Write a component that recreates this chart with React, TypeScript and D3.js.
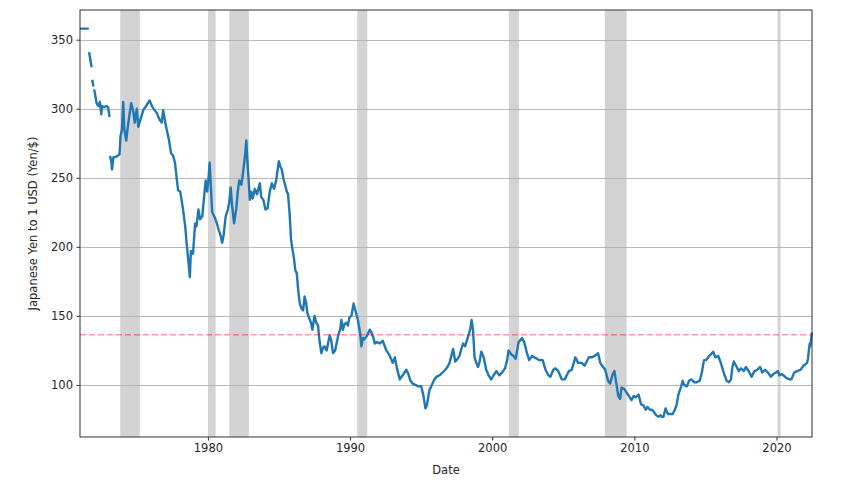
import React, { useRef, useEffect } from 'react';
import * as d3 from 'd3';

// decimal years; null marks a gap in the series
const dates: number[] = [
  1971.00, 1971.30, 1971.62, 1971.63, 1971.64, 1971.75, 1971.82, 1971.84, 1971.86, 1971.95, 1971.97,
  1972.00, 1972.10, 1972.17, 1972.30, 1972.40, 1972.50, 1972.55, 1972.70, 1972.85, 1972.98, 1973.08, 1973.09,
  1973.11, 1973.20, 1973.25, 1973.35, 1973.50, 1973.65, 1973.78, 1973.85, 1973.95,
  1974.04, 1974.12, 1974.25, 1974.40, 1974.60, 1974.75, 1974.85,
  1975.00, 1975.10, 1975.25, 1975.45, 1975.65, 1975.90,
  1976.10, 1976.40, 1976.60, 1976.75, 1976.85,
  1977.00, 1977.10, 1977.25, 1977.40, 1977.55, 1977.68, 1977.80, 1977.90,
  1978.05, 1978.25, 1978.40, 1978.50, 1978.62, 1978.73, 1978.80, 1978.95,
  1979.10, 1979.20, 1979.33, 1979.45, 1979.60, 1979.84, 1979.95,
  1980.07, 1980.12, 1980.20, 1980.30, 1980.45, 1980.60, 1980.77, 1980.90,
  1981.00, 1981.10, 1981.25, 1981.40, 1981.50, 1981.60, 1981.70, 1981.84,
  1982.00, 1982.10, 1982.20, 1982.35, 1982.45, 1982.60, 1982.70, 1982.78, 1982.95,
  1983.05, 1983.15, 1983.30, 1983.45, 1983.65, 1983.75, 1983.90,
  1984.05, 1984.20, 1984.35, 1984.50, 1984.65, 1984.80, 1984.99,
  1985.10, 1985.20, 1985.30, 1985.45, 1985.55, 1985.64, 1985.76, 1985.85, 1985.95,
  1986.05, 1986.15, 1986.25, 1986.35, 1986.46, 1986.60, 1986.70, 1986.80, 1986.90,
  1987.00, 1987.10, 1987.25, 1987.35, 1987.50, 1987.63, 1987.75, 1987.85, 1987.98,
  1988.10, 1988.20, 1988.35, 1988.57, 1988.68, 1988.80, 1988.95,
  1989.15, 1989.30, 1989.39, 1989.50, 1989.60, 1989.74, 1989.85, 1989.96,
  1990.10, 1990.25, 1990.40, 1990.55, 1990.70, 1990.80, 1990.90,
  1991.00, 1991.15, 1991.39, 1991.50, 1991.65, 1991.74, 1991.90,
  1992.10, 1992.30, 1992.55, 1992.75,
  1993.00, 1993.15, 1993.30, 1993.50, 1993.70, 1993.96,
  1994.10, 1994.25, 1994.40, 1994.60, 1994.80,
  1995.00, 1995.15, 1995.30, 1995.40, 1995.58, 1995.75, 1995.93,
  1996.10, 1996.30, 1996.50, 1996.70, 1996.85,
  1997.00, 1997.25, 1997.40, 1997.50, 1997.70, 1997.80, 1997.95,
  1998.10, 1998.30, 1998.45, 1998.55, 1998.65, 1998.76, 1998.85,
  1999.00, 1999.10, 1999.23, 1999.40, 1999.58, 1999.75, 1999.93,
  2000.10, 2000.30, 2000.50, 2000.70, 2000.90,
  2001.05, 2001.15, 2001.35, 2001.50, 2001.65, 2001.86,
  2002.10, 2002.25, 2002.45, 2002.60, 2002.80, 2002.95,
  2003.15, 2003.30, 2003.55, 2003.75, 2003.95,
  2004.10, 2004.30, 2004.45, 2004.65, 2004.90,
  2005.10, 2005.25, 2005.40, 2005.60, 2005.85,
  2006.05, 2006.30, 2006.50, 2006.65, 2006.80,
  2007.00, 2007.20, 2007.45, 2007.60, 2007.80, 2007.95,
  2008.15, 2008.30, 2008.45, 2008.60, 2008.75, 2008.87,
  2009.00, 2009.10, 2009.30, 2009.55, 2009.80, 2009.95,
  2010.10, 2010.30, 2010.47, 2010.65, 2010.80, 2010.93,
  2011.10, 2011.25, 2011.40, 2011.54, 2011.70, 2011.85, 2011.93,
  2012.05, 2012.20, 2012.35, 2012.50, 2012.70, 2012.85, 2012.98,
  2013.10, 2013.30, 2013.40, 2013.50, 2013.70, 2013.85,
  2014.00, 2014.20, 2014.40, 2014.60, 2014.75, 2014.90,
  2015.05, 2015.20, 2015.45, 2015.55, 2015.70, 2015.90,
  2016.05, 2016.20, 2016.35, 2016.50, 2016.65, 2016.80, 2016.90,
  2017.00, 2017.20, 2017.35, 2017.50, 2017.70, 2017.85,
  2018.10, 2018.25, 2018.45, 2018.65, 2018.85,
  2019.00, 2019.20, 2019.40, 2019.60, 2019.80, 2019.95,
  2020.10, 2020.20, 2020.35, 2020.50, 2020.70, 2020.90,
  2021.05, 2021.25, 2021.45, 2021.70, 2021.90,
  2022.05, 2022.15, 2022.22, 2022.28, 2022.34, 2022.38, 2022.50,
];

const rates: (number | null)[] = [
  358, 358, 358, null, 341, 334, 330, null, 321, 316, null,
  314, 308, 304, 302, 305, 296, 302, 301, 302, 301, 294, null,
  266, 262, 256, 265, 265, 266, 267, 280, 285,
  305, 285, 277, 290, 304, 298, 290,
  300, 287, 292, 299, 302, 306,
  301, 297, 292, 290, 299,
  290, 285, 278, 268, 266, 261, 250, 241,
  240, 227, 215, 203, 190, 178, 197, 195,
  217, 215, 227, 220, 222, 248, 240,
  253, 261, 245, 225, 222, 218, 212, 208,
  203, 208, 222, 227, 232, 243, 230, 217,
  228, 240, 248, 245, 252, 265, 277, 262, 234,
  240, 235, 242, 238, 246, 236, 234,
  227, 228, 240, 246, 242, 248, 262,
  258, 256, 250, 244, 240, 238, 222, 205, 198,
  192, 183, 181, 169, 159, 155, 154, 164, 160,
  152, 149, 145, 140, 150, 145, 143, 132, 123,
  127, 128, 125, 136, 132, 123, 125,
  135, 140, 147, 140, 144, 145, 143, 149,
  150, 159, 153, 147, 138, 128, 134,
  133, 135, 140, 138, 134, 130, 131,
  130, 132, 125, 122,
  116, 120, 112, 104, 107, 111,
  108, 103, 101, 100, 99,
  99, 93, 83, 85, 96, 100, 104,
  106, 107, 109, 111, 113,
  116, 126, 117, 118, 121, 125, 130,
  128, 135, 140, 147, 140, 120, 117,
  113, 116, 124, 120, 111, 107, 104,
  107, 110, 107, 109, 112,
  118, 125, 122, 121, 119, 131,
  134, 131, 123, 118, 121, 120,
  119, 118, 118, 111, 107,
  106, 111, 112, 110, 104,
  104, 107, 110, 111, 120,
  116, 116, 114, 117, 120,
  120, 121, 123, 116, 113, 111,
  103, 101, 107, 110, 100, 92,
  90, 98, 97, 93, 89, 92,
  91, 93, 86, 85, 82, 84,
  82, 82, 80, 78, 77, 78, 77,
  77, 83, 79, 79, 79, 82, 86,
  93, 99, 103, 100, 99, 103,
  104, 102, 102, 103, 109, 118,
  118, 120, 123, 124, 120, 121,
  117, 112, 107, 103, 102, 104, 113,
  117, 113, 110, 112, 110, 113,
  109, 106, 110, 111, 113,
  109, 111, 109, 106, 108, 109,
  110, 107, 108, 107, 105, 104,
  104, 109, 110, 111, 114,
  115, 116, 119, 125, 130, 128, 138,
];

// NBER recessions (decimal years)
const recessionStarts: number[] = [1973.83, 1980.0, 1981.5, 1990.5, 2001.17, 2007.92, 2020.08];
const recessionEnds: number[] = [1975.21, 1980.54, 1982.88, 1991.21, 2001.88, 2009.46, 2020.29];

const xTicks: number[] = [1980, 1990, 2000, 2010, 2020];
const yTicks: number[] = [100, 150, 200, 250, 300, 350];
const currentRate = 136.4;
const xDomain: [number, number] = [1971.0, 2022.5];
const yDomain: [number, number] = [62.3, 371.5];

const App = () => {
  const svgRef = useRef<SVGSVGElement>(null);

  useEffect(() => {
    const width = 849;
    const height = 487;
    const margin = { top: 10, right: 37, bottom: 50, left: 80 };
    const font = '"DejaVu Sans", sans-serif';

    const svg = d3.select(svgRef.current)
      .attr('width', width)
      .attr('height', height)
      .style('background', 'white');
    svg.selectAll('*').remove();

    const x = d3.scaleLinear().domain(xDomain).range([margin.left, width - margin.right]);
    const y = d3.scaleLinear().domain(yDomain).range([height - margin.bottom, margin.top]);

    // recession bands
    svg.append('g')
      .selectAll('rect')
      .data(recessionStarts)
      .join('rect')
      .attr('x', (d) => x(d))
      .attr('width', (d, i) => x(recessionEnds[i]) - x(d))
      .attr('y', margin.top)
      .attr('height', height - margin.bottom - margin.top)
      .attr('fill', '#d3d3d3');

    // horizontal grid
    svg.append('g')
      .selectAll('line')
      .data(yTicks)
      .join('line')
      .attr('x1', margin.left)
      .attr('x2', width - margin.right)
      .attr('y1', (d) => Math.round(y(d)) + 0.5)
      .attr('y2', (d) => Math.round(y(d)) + 0.5)
      .attr('stroke', '#b0b0b0')
      .attr('stroke-width', 1)
      .attr('stroke-opacity', 0.9);

    // series
    const points = dates.map((d, i) => [d, rates[i]] as [number, number | null]);
    const line = d3.line<[number, number | null]>()
      .defined((d) => d[1] !== null)
      .x((d) => x(d[0]))
      .y((d) => y(d[1] as number));

    svg.append('path')
      .datum(points)
      .attr('fill', 'none')
      .attr('stroke', '#1f77b4')
      .attr('stroke-width', 2.4)
      .attr('stroke-linejoin', 'round')
      .attr('d', line);

    // current level
    svg.append('line')
      .attr('x1', margin.left)
      .attr('x2', width - margin.right)
      .attr('y1', y(currentRate))
      .attr('y2', y(currentRate))
      .attr('stroke', 'red')
      .attr('stroke-opacity', 0.4)
      .attr('stroke-width', 1.5)
      .attr('stroke-dasharray', '6,3');

    // axes
    const xAxis = d3.axisBottom(x).tickValues(xTicks).tickFormat(d3.format('d')).tickSize(3.5).tickPadding(3.5);
    const yAxis = d3.axisLeft(y).tickValues(yTicks).tickSize(3.5).tickPadding(3.5);

    const gx = svg.append('g')
      .attr('transform', `translate(0,${height - margin.bottom})`)
      .call(xAxis);
    const gy = svg.append('g')
      .attr('transform', `translate(${margin.left},0)`)
      .call(yAxis);

    [gx, gy].forEach((g) => {
      g.select('.domain').remove();
      g.selectAll('line').attr('stroke', '#333');
      g.selectAll('text')
        .attr('fill', '#262626')
        .style('font-family', font)
        .style('font-size', '11.5px');
    });

    // frame
    svg.append('rect')
      .attr('x', margin.left)
      .attr('y', margin.top)
      .attr('width', width - margin.right - margin.left)
      .attr('height', height - margin.bottom - margin.top)
      .attr('fill', 'none')
      .attr('stroke', '#333')
      .attr('stroke-width', 1);

    svg.append('text')
      .attr('text-anchor', 'middle')
      .attr('x', (margin.left + width - margin.right) / 2)
      .attr('y', 474)
      .attr('fill', '#262626')
      .style('font-family', font)
      .style('font-size', '11.5px')
      .text('Date');

    svg.append('text')
      .attr('text-anchor', 'middle')
      .attr('transform', `translate(37,${(margin.top + height - margin.bottom) / 2}) rotate(-90)`)
      .attr('fill', '#262626')
      .style('font-family', font)
      .style('font-size', '11.5px')
      .text('Japanese Yen to 1 USD (Yen/$)');
  }, []);

  return (
    <div style={{ position: 'absolute', left: 0, top: 0, background: 'white' }}>
      <svg ref={svgRef}></svg>
    </div>
  );
};

export default App;
